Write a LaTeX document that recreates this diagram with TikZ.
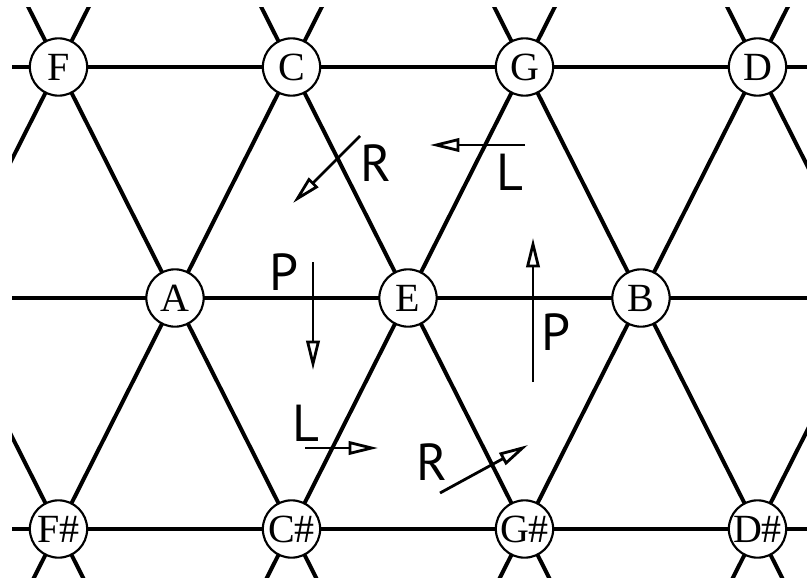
\documentclass[tikz,border=0pt]{standalone}
\usepackage{fontspec}
\setmainfont{Liberation Serif}
\newfontfamily\lblfont{PT Sans}
\usetikzlibrary{arrows.meta}
\tikzset{
  lat/.style={line width=3pt, line cap=butt},
  note/.style={circle, draw, fill=white, line width=1.6pt, minimum size=43pt, inner sep=0pt, font=\fontsize{30}{31}\selectfont},
  lbl/.style={font=\lblfont\fontsize{39}{40}\selectfont, inner sep=0pt},
  mv/.style={line width=2.1pt, -{Triangle[open, length=22pt, width=10pt, line width=2.1pt]}}
}
\begin{document}
\begin{tikzpicture}[x=0.75pt, y=-0.75pt]
\useasboundingbox (0,0) rectangle (807,578);
\begin{scope}
\clip (12,7) rectangle (807,578);
\foreach \x [count=\i] in {-58,175,408,641,874} {
  \coordinate (ub\i) at ({\x-233},760);
  \coordinate (ut\i) at ({\x+233},-164);
  \coordinate (db\i) at ({\x+233},760);
  \coordinate (dt\i) at ({\x-233},-164);
  \draw[lat] (ub\i) -- (ut\i);
  \draw[lat] (dt\i) -- (db\i);
}
\foreach \y [count=\i] in {67,298,529} {
  \coordinate (hl\i) at (0,\y);
  \coordinate (hr\i) at (807,\y);
  \draw[lat] (hl\i) -- (hr\i);
}
\end{scope}
% notes
\node[note] (F) at (58.5,67) {F};
\node[note] (C) at (291.5,67) {C};
\node[note] (G) at (524.5,67) {G};
\node[note] (D) at (757.5,67) {D};
\node[note] (A) at (175,298) {A};
\node[note] (E) at (408,298) {E};
\node[note] (B) at (641,298) {B};
\node[note] (Fs) at (58.5,529) {F\#};
\node[note] (Cs) at (291.5,529) {C\#};
\node[note] (Gs) at (524.5,529) {G\#};
\node[note] (Ds) at (757.5,529) {D\#};
% transformations
\coordinate (r1s) at (360,136); \coordinate (r1e) at (293,203);
\draw[mv] (r1s) -- (r1e);
\node[lbl] (R1) at (376,163) {R};
\coordinate (l1s) at (525,145); \coordinate (l1e) at (430,145);
\draw[mv] (l1s) -- (l1e);
\node[lbl] (L1) at (510,172) {L};
\coordinate (p1s) at (313,262); \coordinate (p1e) at (313,370);
\draw[mv] (p1s) -- (p1e);
\node[lbl] (P1) at (284,272) {P};
\coordinate (p2s) at (533,382); \coordinate (p2e) at (533,238);
\draw[mv] (p2s) -- (p2e);
\node[lbl] (P2) at (556,332) {P};
\coordinate (l2s) at (305,448); \coordinate (l2e) at (378,448);
\draw[mv] (l2s) -- (l2e);
\node[lbl] (L2) at (306,423) {L};
\coordinate (r2s) at (440,493); \coordinate (r2e) at (528,445);
\draw[mv] (r2s) -- (r2e);
\node[lbl] (R2) at (432,462) {R};
\end{tikzpicture}
\end{document}
